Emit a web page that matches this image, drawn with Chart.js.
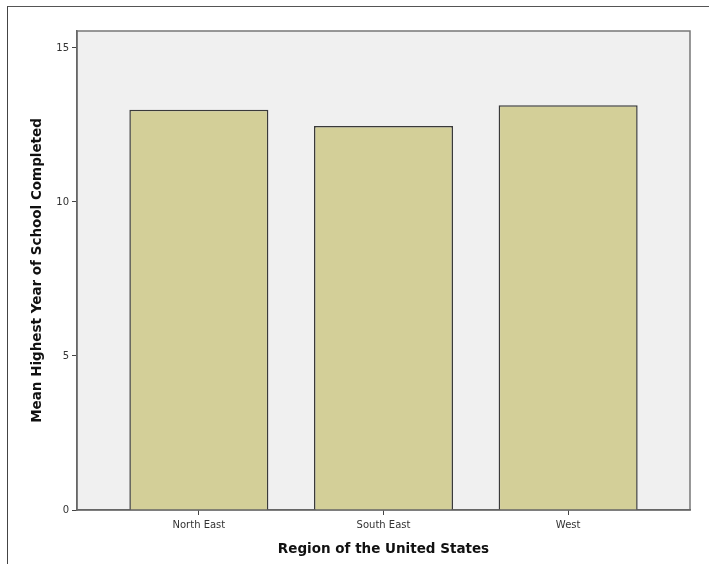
<!DOCTYPE html>
<html lang="en">
<head>
    <meta charset="UTF-8">
    <title>Mean Highest Year of School Completed by Region</title>
    <script src="https://cdn.jsdelivr.net/npm/chart.js"></script>
    <style>
        body { margin: 0; overflow: hidden; background: #fff; }
        #frame { position: absolute; left: 7px; top: 6px; width: 800px; height: 700px;
                 border-left: 1px solid #444; border-top: 1px solid #555; }
        #regionChart { position: absolute; left: 0; top: 0; }
    </style>
</head>
<body>
    <div id="frame"></div>
    <canvas id="regionChart" width="709" height="564"></canvas>

    <script>
        // values
        const regions = ['North East', 'South East', 'West'];
        const meanYears = [12.99, 12.47, 13.14];
        const yTicks = [0, 5, 10, 15];

        const plotBackground = {
            id: 'plotBackground',
            beforeDraw(chart) {
                const {ctx, chartArea: a} = chart;
                ctx.save();
                ctx.fillStyle = '#f0f0f0';
                ctx.fillRect(a.left, a.top, a.right - a.left, a.bottom - a.top);
                ctx.strokeStyle = '#777';
                ctx.lineWidth = 1.5;
                ctx.strokeRect(a.left, a.top, a.right - a.left, a.bottom - a.top);
                ctx.restore();
            }
        };

        function createChart() {
            const ctx = document.getElementById('regionChart').getContext('2d');

            new Chart(ctx, {
                type: 'bar',
                data: {
                    datasets: [{
                        label: 'Mean Highest Year of School Completed',
                        data: regions.map((r, i) => ({x: i, y: meanYears[i]})),
                        backgroundColor: '#d3cf98',
                        borderColor: '#3a3a3a',
                        borderWidth: 1.5,
                        categoryPercentage: 1,
                        barPercentage: 0.753
                    }]
                },
                options: {
                    responsive: false,
                    animation: false,
                    devicePixelRatio: 1,
                    layout: { padding: { top: 31, right: 19, left: 0, bottom: 0 } },
                    plugins: {
                        legend: { display: false },
                        tooltip: { enabled: false }
                    },
                    scales: {
                        x: {
                            type: 'linear',
                            offset: false,
                            min: -0.66,
                            max: 2.66,
                            afterFit: s => { s.height = 54; },
                            afterBuildTicks: s => { s.ticks = regions.map((r, i) => ({value: i})); },
                            ticks: {
                                callback: v => regions[v],
                                color: '#333',
                                font: { family: 'DejaVu Sans', size: 10 },
                                padding: 4,
                                maxRotation: 0
                            },
                            grid: { offset: false, drawOnChartArea: false, tickLength: 5, color: '#444' },
                            border: { display: true, color: '#666', width: 1.5 },
                            title: {
                                display: true,
                                text: 'Region of the United States',
                                color: '#111',
                                font: { family: 'DejaVu Sans', size: 13.5, weight: 'bold' },
                                padding: { top: 0, bottom: 6 }
                            }
                        },
                        y: {
                            min: 0,
                            max: 15.55,
                            afterFit: s => { s.width = 77; },
                            afterBuildTicks: s => { s.ticks = yTicks.map(v => ({value: v})); },
                            ticks: {
                                color: '#333',
                                font: { family: 'DejaVu Sans', size: 10 },
                                padding: 3
                            },
                            grid: { drawOnChartArea: false, tickLength: 5, color: '#444' },
                            border: { display: true, color: '#666', width: 1.5 },
                            title: {
                                display: true,
                                text: 'Mean Highest Year of School Completed',
                                color: '#111',
                                font: { family: 'DejaVu Sans', size: 13.5, weight: 'bold' },
                                padding: { top: 29, bottom: 0 }
                            }
                        }
                    }
                },
                plugins: [plotBackground]
            });
        }

        window.onload = createChart;
    </script>
</body>
</html>
